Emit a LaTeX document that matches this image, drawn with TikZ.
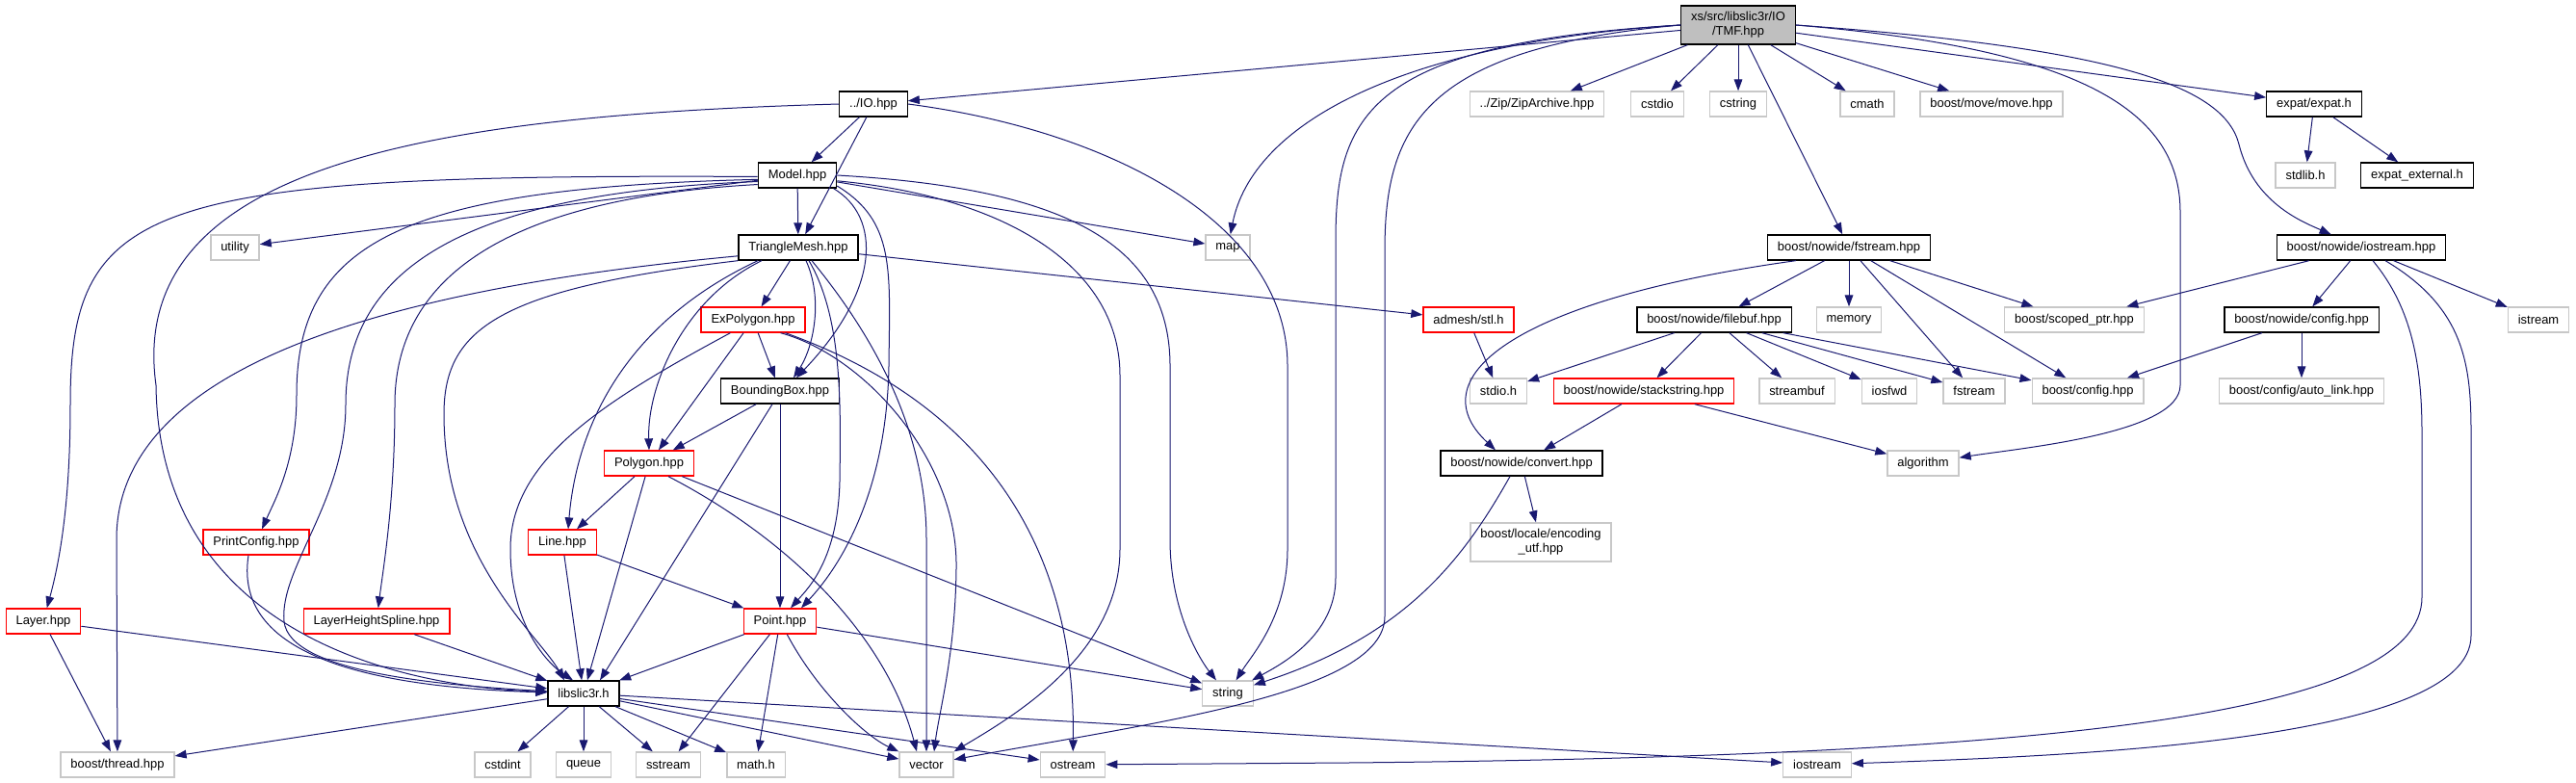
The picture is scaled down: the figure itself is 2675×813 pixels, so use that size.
\documentclass[tikz,border=0pt]{standalone}
\usepackage{fontspec}
\setmainfont{Liberation Sans}
\usepackage{tikz}
\usetikzlibrary{arrows.meta, calc}
\definecolor{dxedge}{HTML}{191970}
\definecolor{dxgray}{HTML}{BFBFBF}
\definecolor{dxsys}{HTML}{C8C8C8}
\definecolor{dxred}{HTML}{FF0000}

\begin{document}
\begin{tikzpicture}[
  x=0.75pt, y=-0.75pt,
  hdr/.style={rectangle, draw=#1, fill=white, line width=1pt,
    minimum height=19.5pt, inner xsep=7.8pt, inner ysep=1pt,
    font=\fontsize{9.7}{11.4}\selectfont, align=center},
  root/.style={hdr=black, fill=dxgray, minimum height=30pt},
  dep/.style={-{Triangle[length=9pt, width=6.5pt]}, dxedge, line width=0.75pt},
]
  \useasboundingbox (0,0) rectangle (2675,813);

  % Headers, row by row
  \node[root] (tmf) at (1805,26) {xs/src/libslic3r/IO\\/TMF.hpp};
  \node[hdr=black] (io) at (907,108) {../IO.hpp};
  \node[hdr=dxsys] (zip) at (1596,108) {../Zip/ZipArchive.hpp};
  \node[hdr=dxsys] (cstdio) at (1721,108) {cstdio};
  \node[hdr=dxsys] (cstring) at (1805,108) {cstring};
  \node[hdr=dxsys] (cmath) at (1939,108) {cmath};
  \node[hdr=dxsys] (move) at (2068,108) {boost/move/move.hpp};
  \node[hdr=black] (expat) at (2403,108) {expat/expat.h};

  \node[hdr=black] (model) at (828,182) {Model.hpp};
  \node[hdr=dxsys] (stdlib) at (2394,182) {stdlib.h};
  \node[hdr=black] (expatext) at (2510,182) {expat\_external.h};

  \node[hdr=dxsys] (utility) at (244,257) {utility};
  \node[hdr=black] (trimesh) at (829,257) {TriangleMesh.hpp};
  \node[hdr=dxsys] (map) at (1275,257) {map};
  \node[hdr=black] (nwfstream) at (1920,257) {boost/nowide/fstream.hpp};
  \node[hdr=black] (nwiostream) at (2452,257) {boost/nowide/iostream.hpp};

  \node[hdr=dxred] (expoly) at (782,332) {ExPolygon.hpp};
  \node[hdr=dxred] (admesh) at (1525,332) {admesh/stl.h};
  \node[hdr=black] (filebuf) at (1780,332) {boost/nowide/filebuf.hpp};
  \node[hdr=dxsys] (memory) at (1920,332) {memory};
  \node[hdr=dxsys] (scoped) at (2154,332) {boost/scoped\_ptr.hpp};
  \node[hdr=black] (nwconfig) at (2390,332) {boost/nowide/config.hpp};
  \node[hdr=dxsys] (istream) at (2636,332) {istream};

  \node[hdr=black] (bbox) at (810,406) {BoundingBox.hpp};
  \node[hdr=dxsys] (stdioh) at (1556,406) {stdio.h};
  \node[hdr=dxred] (stackstr) at (1707,406) {boost/nowide/stackstring.hpp};
  \node[hdr=dxsys] (streambuf) at (1866,406) {streambuf};
  \node[hdr=dxsys] (iosfwd) at (1962,406) {iosfwd};
  \node[hdr=dxsys] (fstream) at (2050,406) {fstream};
  \node[hdr=dxsys] (bconfig) at (2168,406) {boost/config.hpp};
  \node[hdr=dxsys] (autolink) at (2390,406) {boost/config/auto\_link.hpp};

  \node[hdr=dxred] (polygon) at (674,481) {Polygon.hpp};
  \node[hdr=black] (convert) at (1580,481) {boost/nowide/convert.hpp};
  \node[hdr=dxsys] (algorithm) at (1997,481) {algorithm};

  \node[hdr=dxred] (printcfg) at (266,563) {PrintConfig.hpp};
  \node[hdr=dxred] (linehpp) at (584,563) {Line.hpp};
  \node[hdr=dxsys, minimum height=30pt] (encutf) at (1600,563) {boost/locale/encoding\\\_utf.hpp};

  \node[hdr=dxred] (layer) at (45,645) {Layer.hpp};
  \node[hdr=dxred] (lhspline) at (391,645) {LayerHeightSpline.hpp};
  \node[hdr=dxred] (pointhpp) at (810,645) {Point.hpp};

  \node[hdr=black] (libslic) at (606,720) {libslic3r.h};
  \node[hdr=dxsys] (string) at (1275,720) {string};

  \node[hdr=dxsys] (thread) at (122,794) {boost/thread.hpp};
  \node[hdr=dxsys] (cstdint) at (522,794) {cstdint};
  \node[hdr=dxsys] (queue) at (606,794) {queue};
  \node[hdr=dxsys] (sstream) at (694,794) {sstream};
  \node[hdr=dxsys] (mathh) at (785,794) {math.h};
  \node[hdr=dxsys] (vector) at (962,794) {vector};
  \node[hdr=dxsys] (ostream) at (1114,794) {ostream};
  \node[hdr=dxsys] (iostream) at (1887,794) {iostream};

  % TMF.hpp
  \draw[dep] (tmf) -- (io);
  \draw[dep] (tmf) -- (zip);
  \draw[dep] (tmf) -- (cstdio);
  \draw[dep] (tmf) -- (cstring);
  \draw[dep] (tmf) -- (cmath);
  \draw[dep] (tmf) -- (move);
  \draw[dep] (tmf) -- (expat);
  \draw[dep] (tmf) -- (nwfstream);
  \draw[dep] (tmf.west) .. controls (1450,45) and (1300,130) .. (map);
  \draw[dep] (tmf.west) .. controls (1420,45) and (1387,120) .. (1387,250)
    -- (1387,600) .. controls (1387,660) and (1330,690) .. (string);
  \draw[dep] (tmf.west) .. controls (1480,50) and (1438,130) .. (1438,260)
    -- (1438,640) .. controls (1438,720) and (1200,750) .. (vector);
  \draw[dep] (tmf.east) .. controls (2150,50) and (2264,110) .. (2264,220)
    -- (2264,400) .. controls (2264,450) and (2100,465) .. (algorithm);
  \draw[dep] (tmf.east) .. controls (2200,50) and (2310,90) .. (2325,150)
    .. controls (2340,210) and (2390,230) .. (nwiostream);

  % ../IO.hpp
  \draw[dep] (io) -- (model);
  \draw[dep] (io) -- (trimesh);
  \draw[dep] (io.west) .. controls (450,120) and (130,170) .. (162,400)
    .. controls (165,650) and (400,712) .. (libslic);
  \draw[dep] (io.east) .. controls (1150,135) and (1337,230) .. (1337,380)
    -- (1337,570) .. controls (1337,640) and (1300,680) .. (string);

  % Model.hpp
  \draw[dep] (model) -- (trimesh);
  \draw[dep] (model) -- (utility);
  \draw[dep] (model) -- (map);
  \draw[dep] (model.182) .. controls (150,180) and (73,210) .. (73,420)
    .. controls (73,530) and (60,590) .. (layer);
  \draw[dep] (model.186) .. controls (420,195) and (308,250) .. (308,410)
    .. controls (308,480) and (285,520) .. (printcfg);
  \draw[dep] (model.189) .. controls (480,200) and (359,280) .. (359,420)
    .. controls (359,520) and (290,590) .. (295,645)
    .. controls (300,700) and (470,712) .. (libslic);
  \draw[dep] (model.193) .. controls (540,205) and (410,280) .. (410,420)
    .. controls (410,520) and (398,590) .. (lhspline);
  \draw[dep] (model.-20) .. controls (915,225) and (915,300) .. ($(bbox.north)+(17,0)$);
  \draw[dep] (model.-15) .. controls (930,230) and (924,280) .. (923,380)
    .. controls (921,500) and (880,580) .. ($(pointhpp.north)+(22,0)$);
  \draw[dep] (model.-8) .. controls (1050,205) and (1163,280) .. (1163,390)
    -- (1163,570) .. controls (1163,680) and (1050,745) .. (vector.north east);
  \draw[dep] (model.east) .. controls (1100,195) and (1215,250) .. (1215,380)
    -- (1215,560) .. controls (1215,640) and (1250,690) .. ($(string.north)+(-12,0)$);

  % TriangleMesh.hpp
  \draw[dep] (trimesh) -- (expoly);
  \draw[dep] (trimesh) -- (admesh);
  \draw[dep] (trimesh.188) .. controls (400,300) and (121,380) .. (121,560) -- (thread);
  \draw[dep] (trimesh.south west) .. controls (520,300) and (461,340) .. (461,430)
    .. controls (461,580) and (560,660) .. ($(libslic.north)+(-20,0)$);
  \draw[dep] ($(trimesh.south)+(-42,0)$) .. controls (660,330) and (600,430) .. ($(linehpp.north)+(6,0)$);
  \draw[dep] ($(trimesh.south)+(-38,0)$) .. controls (710,310) and (672,400) .. (polygon.north);
  \draw[dep] ($(trimesh.south)+(8,0)$) .. controls (855,310) and (845,360) .. ($(bbox.north)+(14,0)$);
  \draw[dep] ($(trimesh.south)+(11,0)$) .. controls (875,330) and (873,420) .. (872,500)
    .. controls (870,580) and (840,610) .. ($(pointhpp.north)+(11,0)$);
  \draw[dep] ($(trimesh.south)+(14,0)$) .. controls (900,340) and (962,440) .. (962,560) -- (vector);

  % ExPolygon.hpp
  \draw[dep] (expoly) -- (bbox);
  \draw[dep] (expoly) -- (polygon);
  \draw[dep] ($(expoly.south west)+(31,0)$) .. controls (620,420) and (530,480) .. (530,570)
    .. controls (530,650) and (570,690) .. ($(libslic.north)+(-11,0)$);
  \draw[dep] ($(expoly.south east)+(-26,0)$) .. controls (900,370) and (995,480) .. (993,590)
    .. controls (992,680) and (975,740) .. ($(vector.north)+(8,0)$);
  \draw[dep] ($(expoly.south east)+(-21,0)$) .. controls (1050,430) and (1117,600) .. (ostream);

  % BoundingBox.hpp
  \draw[dep] (bbox) -- (polygon);
  \draw[dep] (bbox) -- (pointhpp);
  \draw[dep] ($(bbox.south)+(-8,0)$) -- ($(libslic.north)+(17,0)$);

  % Polygon.hpp, Line.hpp, Point.hpp
  \draw[dep] (polygon) -- (linehpp);
  \draw[dep] (polygon) -- (libslic);
  \draw[dep] (polygon) -- (string);
  \draw[dep] ($(polygon.south)+(20,0)$) .. controls (820,560) and (920,660) .. ($(vector.north)+(-10,0)$);
  \draw[dep] (linehpp) -- (libslic);
  \draw[dep] (linehpp) -- (pointhpp);
  \draw[dep] (pointhpp) -- (libslic);
  \draw[dep] (pointhpp) -- (sstream);
  \draw[dep] (pointhpp) -- (mathh);
  \draw[dep] (pointhpp) -- (string);
  \draw[dep] (pointhpp) .. controls (850,720) and (900,765) .. (vector.north west);

  % Layer.hpp, PrintConfig.hpp, LayerHeightSpline.hpp
  \draw[dep] (layer) -- (libslic);
  \draw[dep] (layer) -- (thread);
  \draw[dep] ($(printcfg.south)+(-8,0)$) .. controls (245,660) and (330,712) .. (libslic);
  \draw[dep] (lhspline) -- (libslic);

  % libslic3r.h
  \draw[dep] (libslic) -- (thread);
  \draw[dep] (libslic) -- (cstdint);
  \draw[dep] (libslic) -- (queue);
  \draw[dep] (libslic) -- (sstream);
  \draw[dep] (libslic) -- (mathh);
  \draw[dep] (libslic) -- (vector);
  \draw[dep] (libslic) -- (ostream);
  \draw[dep] (libslic) -- (iostream);

  % boost/nowide and expat
  \draw[dep] (expat) -- (stdlib);
  \draw[dep] (expat) -- (expatext);
  \draw[dep] ($(nwfstream.south west)+(30,0)$) .. controls (1580,310) and (1470,390) .. ($(convert.north)+(-27,0)$);
  \draw[dep] (nwfstream) -- (filebuf);
  \draw[dep] (nwfstream) -- (memory);
  \draw[dep] (nwfstream) -- (scoped);
  \draw[dep] (nwfstream) -- (fstream);
  \draw[dep] (nwfstream) -- (bconfig);
  \draw[dep] (nwiostream) -- (scoped);
  \draw[dep] (nwiostream) -- (nwconfig);
  \draw[dep] (nwiostream) -- (istream);
  \draw[dep] ($(nwiostream.south)+(12,0)$) .. controls (2505,320) and (2515,380) .. (2515,450)
    -- (2515,620) .. controls (2515,740) and (2150,785) .. (1400,792) -- (ostream);
  \draw[dep] ($(nwiostream.south)+(25,0)$) .. controls (2560,320) and (2566,380) .. (2566,450)
    -- (2566,660) .. controls (2566,770) and (2150,785) .. (iostream);
  \draw[dep] (admesh) -- (stdioh);
  \draw[dep] (filebuf) -- (stdioh);
  \draw[dep] (filebuf) -- (stackstr);
  \draw[dep] (filebuf) -- (streambuf);
  \draw[dep] (filebuf) -- (iosfwd);
  \draw[dep] (filebuf) -- (fstream);
  \draw[dep] (filebuf) -- (bconfig);
  \draw[dep] (nwconfig) -- (bconfig);
  \draw[dep] (nwconfig) -- (autolink);
  \draw[dep] (stackstr) -- (convert);
  \draw[dep] (stackstr) -- (algorithm);
  \draw[dep] (convert) -- (encutf);
  \draw[dep] ($(convert.south)+(-12,0)$) .. controls (1520,580) and (1460,660) .. (string);
\end{tikzpicture}
\end{document}
